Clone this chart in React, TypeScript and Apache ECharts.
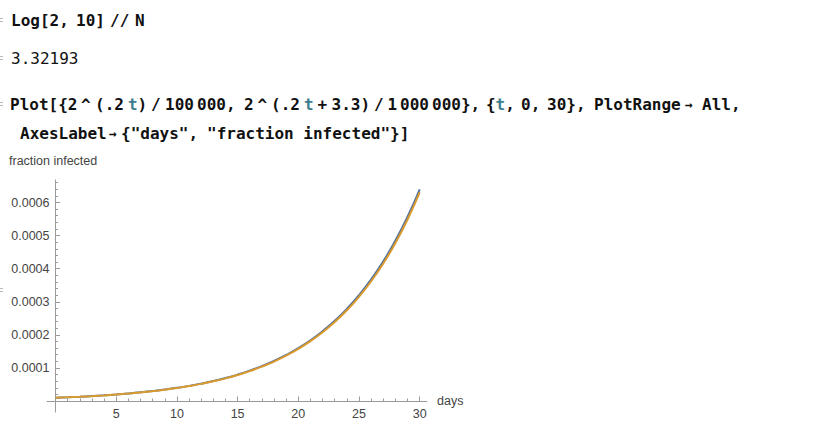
import React, { useEffect, useRef } from "react";
import * as echarts from "echarts";

// ---- data ----
const days = [0, 1, 2, 3, 4, 5, 6, 7, 8, 9, 10, 11, 12, 13, 14, 15, 16, 17, 18, 19, 20, 21, 22, 23, 24, 25, 26, 27, 28, 29, 30];
const infectedA = [
  0.00001000, 0.00001149, 0.00001320, 0.00001516, 0.00001741, 0.00002000, 0.00002297, 0.00002639,
  0.00003031, 0.00003482, 0.00004000, 0.00004595, 0.00005278, 0.00006063, 0.00006964, 0.00008000,
  0.00009190, 0.00010556, 0.00012126, 0.00013929, 0.00016000, 0.00018379, 0.00021112, 0.00024251,
  0.00027858, 0.00032000, 0.00036758, 0.00042224, 0.00048503, 0.00055715, 0.00064000,
];
const infectedB = [
  0.00000985, 0.00001132, 0.00001300, 0.00001493, 0.00001715, 0.00001970, 0.00002262, 0.00002599,
  0.00002985, 0.00003429, 0.00003940, 0.00004526, 0.00005198, 0.00005971, 0.00006859, 0.00007879,
  0.00009051, 0.00010397, 0.00011943, 0.00013719, 0.00015759, 0.00018102, 0.00020793, 0.00023885,
  0.00027437, 0.00031517, 0.00036203, 0.00041587, 0.00047771, 0.00054874, 0.00063035,
];
const xMajorTicks = [5, 10, 15, 20, 25, 30];
const xMinorTicks = [1, 2, 3, 4, 6, 7, 8, 9, 11, 12, 13, 14, 16, 17, 18, 19, 21, 22, 23, 24, 26, 27, 28, 29];
const yMajorTicks = [0.0001, 0.0002, 0.0003, 0.0004, 0.0005, 0.0006];
const yMinorTicks = [
  0.00002, 0.00004, 0.00006, 0.00008, 0.00012, 0.00014, 0.00016, 0.00018, 0.00022, 0.00024, 0.00026, 0.00028,
  0.00032, 0.00034, 0.00036, 0.00038, 0.00042, 0.00044, 0.00046, 0.00048, 0.00052, 0.00054, 0.00056, 0.00058,
  0.00062, 0.00064, 0.00066,
];

const X_MIN = -0.7;
const X_MAX = 30.6;
const Y_MIN = -0.000033;
const Y_MAX = 0.000668;

const AXIS_COLOR = "#9a9a9a";
const LABEL_COLOR = "#444444";
const LABEL_FONT = "Liberation Sans";
const CODE_FONT = 'bold 16px "DejaVu Sans Mono"';
const ARROW_FONT = 'bold 13px "DejaVu Sans Mono"';
const CODE_COLOR = "#111111";
const VAR_COLOR = "#3b7d8e";

function codeText(text: string, x: number, y: number, fill = CODE_COLOR, font = CODE_FONT) {
  return {
    type: "text",
    x,
    y,
    silent: true,
    style: { text, font, fill, textVerticalAlign: "middle", verticalAlign: "middle" },
  };
}

function cellMark(y: number) {
  return [
    { type: "rect", silent: true, shape: { x: 0, y: y - 2, width: 3, height: 1 }, style: { fill: "#b8b8b8" } },
    { type: "rect", silent: true, shape: { x: 0, y: y + 1, width: 3, height: 1 }, style: { fill: "#b8b8b8" } },
  ];
}

export default function App() {
  const ref = useRef<HTMLDivElement>(null);

  useEffect(() => {
    if (!ref.current) return;
    const chart = echarts.init(ref.current, null, { renderer: "svg" });

    const seriesA = days.map((d, i) => [d, infectedA[i]]);
    const seriesB = days.map((d, i) => [d, infectedB[i]]);

    const L1 = 20;
    const L2 = 58;
    const L3 = 104;
    const L4 = 133;

    const graphics: any[] = [
      ...cellMark(L1),
      ...cellMark(L2),
      ...cellMark(L3),
      ...cellMark(290),
      // line 1
      codeText("Log[2,", 11, L1),
      codeText("10]", 76, L1),
      codeText("//", 110, L1),
      codeText("N", 135, L1),
      // line 2
      codeText("3.32193", 11, L2, CODE_COLOR, '16px "DejaVu Sans Mono"'),
      // line 3
      codeText("Plot[{2", 10, L3),
      codeText("^", 81, L3),
      codeText("(.2", 95, L3),
      codeText("t", 128, L3, VAR_COLOR),
      codeText(")", 137.5, L3),
      codeText("/", 151, L3),
      codeText("100", 165, L3),
      codeText("000,", 197, L3),
      codeText("2", 244, L3),
      codeText("^", 257.5, L3),
      codeText("(.2", 271, L3),
      codeText("t", 304, L3, VAR_COLOR),
      codeText("+", 317.5, L3),
      codeText("3.3)", 331.5, L3),
      codeText("/", 374, L3),
      codeText("1", 387.5, L3),
      codeText("000", 400, L3),
      codeText("000},", 432, L3),
      codeText("{", 486, L3),
      codeText("t", 495.6, L3, VAR_COLOR),
      codeText(",", 505.2, L3),
      codeText("0,", 521, L3),
      codeText("30},", 547, L3),
      codeText("PlotRange", 594, L3),
      codeText("\u2192", 685, L3, CODE_COLOR, ARROW_FONT),
      codeText("All,", 702, L3),
      // line 4
      codeText("AxesLabel", 20, L4),
      codeText("\u2192", 109, L4, CODE_COLOR, ARROW_FONT),
      codeText('{"days",', 121, L4),
      codeText('"fraction infected"}]', 207, L4),
      // axis labels
      {
        type: "text",
        x: 9,
        y: 161,
        silent: true,
        style: {
          text: "fraction infected",
          font: `12.5px "${LABEL_FONT}"`,
          fill: LABEL_COLOR,
          textVerticalAlign: "middle",
          verticalAlign: "middle",
        },
      },
      {
        type: "text",
        x: 437,
        y: 401,
        silent: true,
        style: {
          text: "days",
          font: `12.5px "${LABEL_FONT}"`,
          fill: LABEL_COLOR,
          textVerticalAlign: "middle",
          verticalAlign: "middle",
        },
      },
    ];

    const baseX = {
      type: "value",
      min: X_MIN,
      max: X_MAX,
      gridIndex: 0,
      position: "bottom",
      offset: -11,
      splitLine: { show: false },
    };
    const baseY = {
      type: "value",
      min: Y_MIN,
      max: Y_MAX,
      gridIndex: 0,
      position: "left",
      offset: -8.5,
      splitLine: { show: false },
    };

    chart.setOption({
      animation: false,
      backgroundColor: "#ffffff",
      grid: { left: 47, right: 398, top: 180, bottom: 20, containLabel: false },
      xAxis: [
        {
          ...baseX,
          axisLine: { show: true, onZero: false, lineStyle: { color: AXIS_COLOR, width: 1 } },
          axisTick: { show: true, inside: true, length: 4.5, customValues: xMajorTicks, lineStyle: { color: AXIS_COLOR } },
          axisLabel: {
            show: true,
            customValues: xMajorTicks,
            margin: 6,
            color: LABEL_COLOR,
            fontFamily: LABEL_FONT,
            fontSize: 12.5,
            formatter: (v: number) => String(Math.round(v)),
          },
        },
        {
          ...baseX,
          axisLine: { show: true, onZero: false, lineStyle: { color: AXIS_COLOR, opacity: 0 } },
          axisTick: { show: true, inside: true, length: 2.5, customValues: xMinorTicks, lineStyle: { color: AXIS_COLOR } },
          axisLabel: { show: false },
        },
      ],
      yAxis: [
        {
          ...baseY,
          axisLine: { show: true, onZero: false, lineStyle: { color: AXIS_COLOR, width: 1 } },
          axisTick: { show: true, inside: true, length: 4.5, customValues: yMajorTicks, lineStyle: { color: AXIS_COLOR } },
          axisLabel: {
            show: true,
            customValues: yMajorTicks,
            margin: 6,
            color: LABEL_COLOR,
            fontFamily: LABEL_FONT,
            fontSize: 12.5,
            formatter: (v: number) => v.toFixed(4),
          },
        },
        {
          ...baseY,
          axisLine: { show: true, onZero: false, lineStyle: { color: AXIS_COLOR, opacity: 0 } },
          axisTick: { show: true, inside: true, length: 2.5, customValues: yMinorTicks, lineStyle: { color: AXIS_COLOR } },
          axisLabel: { show: false },
        },
      ],
      series: [
        {
          type: "line",
          name: "A",
          xAxisIndex: 0,
          yAxisIndex: 0,
          data: seriesA,
          showSymbol: false,
          smooth: true,
          lineStyle: { color: "#51709f", width: 2 },
          itemStyle: { color: "#51709f" },
          z: 2,
        },
        {
          type: "line",
          name: "B",
          xAxisIndex: 0,
          yAxisIndex: 0,
          data: seriesB,
          showSymbol: false,
          smooth: true,
          lineStyle: { color: "#d99a2e", width: 2 },
          itemStyle: { color: "#d99a2e" },
          z: 3,
        },
      ],
      graphic: graphics,
    });

    return () => {
      chart.dispose();
    };
  }, []);

  return (
    <div
      ref={ref}
      style={{ position: "fixed", left: 0, top: 0, width: 825, height: 432, background: "#ffffff" }}
    />
  );
}
